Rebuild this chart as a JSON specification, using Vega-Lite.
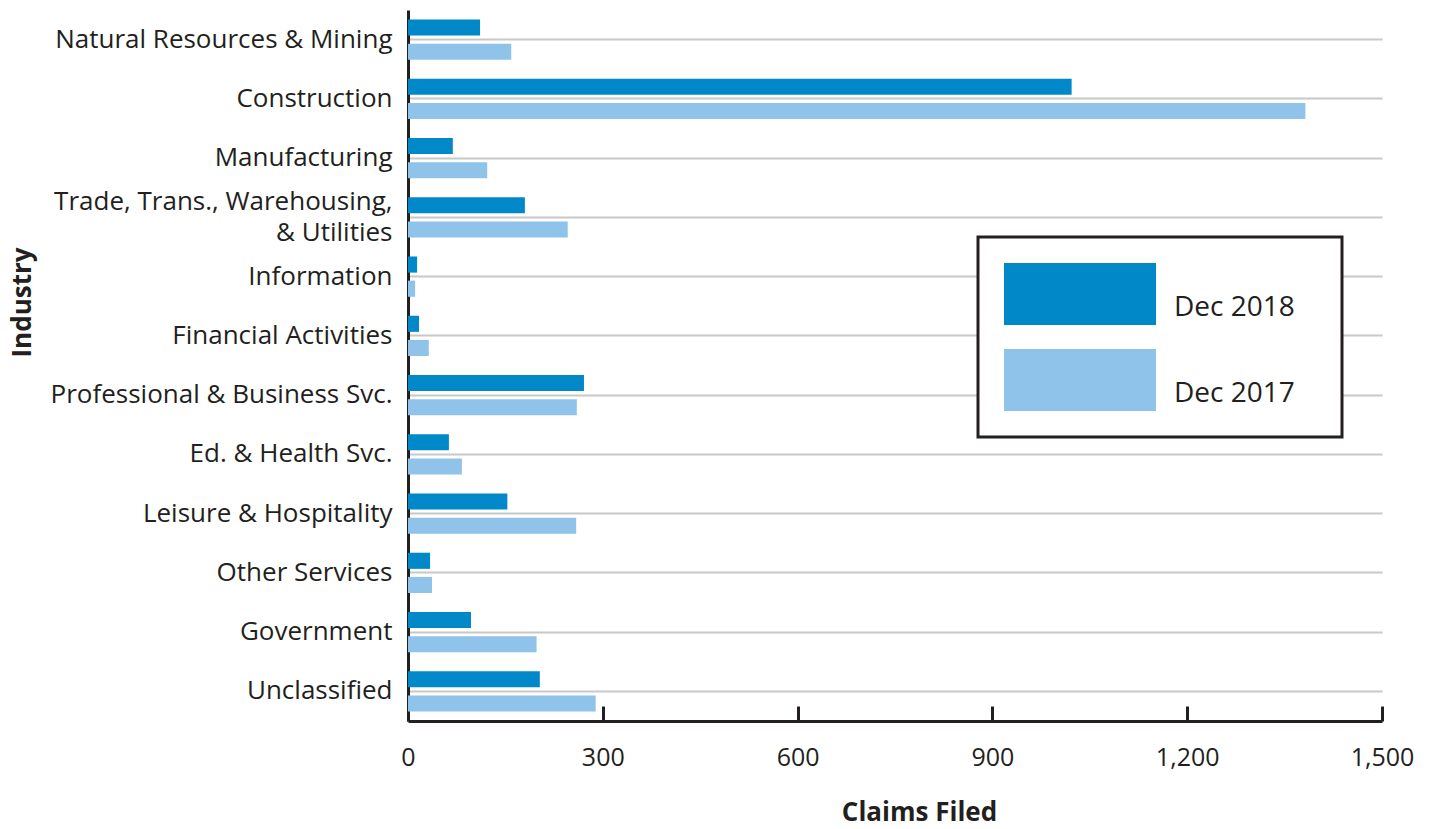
{
  "$schema": "https://vega.github.io/schema/vega-lite/v6.json",
  "autosize": "none",
  "width": 974,
  "height": 711,
  "padding": {"left": 408, "top": 10, "right": 55, "bottom": 108},
  "background": "white",
  "config": {
    "view": {"stroke": null},
    "font": "Open Sans",
    "axis": {"labelColor": "#231f20", "titleColor": "#231f20", "labelFont": "Open Sans", "titleFont": "Open Sans"}
  },
  "data": {
    "values": [
      {"industry": "Natural Resources & Mining", "year": "Dec 2018", "claims": 111},
      {"industry": "Natural Resources & Mining", "year": "Dec 2017", "claims": 159},
      {"industry": "Construction", "year": "Dec 2018", "claims": 1022},
      {"industry": "Construction", "year": "Dec 2017", "claims": 1382},
      {"industry": "Manufacturing", "year": "Dec 2018", "claims": 69},
      {"industry": "Manufacturing", "year": "Dec 2017", "claims": 122},
      {"industry": "Trade, Trans., Warehousing, & Utilities", "year": "Dec 2018", "claims": 180},
      {"industry": "Trade, Trans., Warehousing, & Utilities", "year": "Dec 2017", "claims": 246},
      {"industry": "Information", "year": "Dec 2018", "claims": 14},
      {"industry": "Information", "year": "Dec 2017", "claims": 11},
      {"industry": "Financial Activities", "year": "Dec 2018", "claims": 17},
      {"industry": "Financial Activities", "year": "Dec 2017", "claims": 32},
      {"industry": "Professional & Business Svc.", "year": "Dec 2018", "claims": 271},
      {"industry": "Professional & Business Svc.", "year": "Dec 2017", "claims": 260},
      {"industry": "Ed. & Health Svc.", "year": "Dec 2018", "claims": 63},
      {"industry": "Ed. & Health Svc.", "year": "Dec 2017", "claims": 83},
      {"industry": "Leisure & Hospitality", "year": "Dec 2018", "claims": 153},
      {"industry": "Leisure & Hospitality", "year": "Dec 2017", "claims": 259},
      {"industry": "Other Services", "year": "Dec 2018", "claims": 34},
      {"industry": "Other Services", "year": "Dec 2017", "claims": 37},
      {"industry": "Government", "year": "Dec 2018", "claims": 97},
      {"industry": "Government", "year": "Dec 2017", "claims": 198},
      {"industry": "Unclassified", "year": "Dec 2018", "claims": 203},
      {"industry": "Unclassified", "year": "Dec 2017", "claims": 289}
    ]
  },
  "mark": {"type": "bar"},
  "encoding": {
    "y": {
      "field": "industry",
      "type": "nominal",
      "sort": null,
      "scale": {"paddingInner": 0.32, "paddingOuter": 0.16},
      "axis": {
        "title": "Industry",
        "titleFontSize": 26,
        "titleFontWeight": "bold",
        "titleX": -386,
        "titleY": 292,
        "titleBaseline": "middle",
        "labelFontSize": 26,
        "labelPadding": 16,
        "labelLimit": 400,
        "labelLineHeight": 31,
        "labelOffset": {"condition": {"test": "datum.value == 'Trade, Trans., Warehousing, & Utilities'", "value": -15}, "value": 0},
        "ticks": false,
        "domainColor": "#231f20",
        "domainWidth": 3,
        "grid": true,
        "gridColor": "#c8c8c8",
        "gridWidth": 2,
        "bandPosition": 0.5,
        "labelExpr": "datum.value == 'Trade, Trans., Warehousing, & Utilities' ? ['Trade, Trans., Warehousing, ', '& Utilities'] : datum.value"
      }
    },
    "yOffset": {
      "field": "year",
      "type": "nominal",
      "sort": ["Dec 2018", "Dec 2017"],
      "scale": {"paddingInner": 0.333, "paddingOuter": 0}
    },
    "x": {
      "field": "claims",
      "type": "quantitative",
      "scale": {"domain": [0, 1500], "nice": false},
      "axis": {
        "title": "Claims Filed",
        "titleFontSize": 26,
        "titleFontWeight": "bold",
        "titleX": 511,
        "titleY": 91,
        "titleBaseline": "middle",
        "values": [0, 300, 600, 900, 1200, 1500],
        "format": ",.0f",
        "labelFontSize": 25,
        "labelPadding": 39,
        "labelFlush": false,
        "labelOverlap": false,
        "grid": false,
        "tickSize": -15,
        "tickWidth": 3,
        "tickColor": "#231f20",
        "domainColor": "#231f20",
        "domainWidth": 3
      }
    },
    "color": {
      "field": "year",
      "type": "nominal",
      "scale": {"domain": ["Dec 2018", "Dec 2017"], "range": ["#0088c9", "#8fc3e9"]},
      "legend": {
        "title": null,
        "orient": "none",
        "legendX": 570,
        "legendY": 227,
        "padding": 26,
        "fillColor": "white",
        "strokeColor": "#231f20",
        "symbolType": "M-1,-0.41H1V0.41H-1Z",
        "symbolSize": 23104,
        "symbolStrokeWidth": 0,
        "symbolOpacity": 1,
        "clipHeight": 62,
        "rowPadding": 24,
        "labelOffset": 18,
        "labelFontSize": 28,
        "labelColor": "#231f20",
        "labelFont": "Open Sans",
        "labelBaseline": "top",
        "labelExpr": "datum.label + '\u2800'",
        "encode": {"legend": {"update": {"strokeWidth": {"value": 3}}}}
      }
    }
  }
}
